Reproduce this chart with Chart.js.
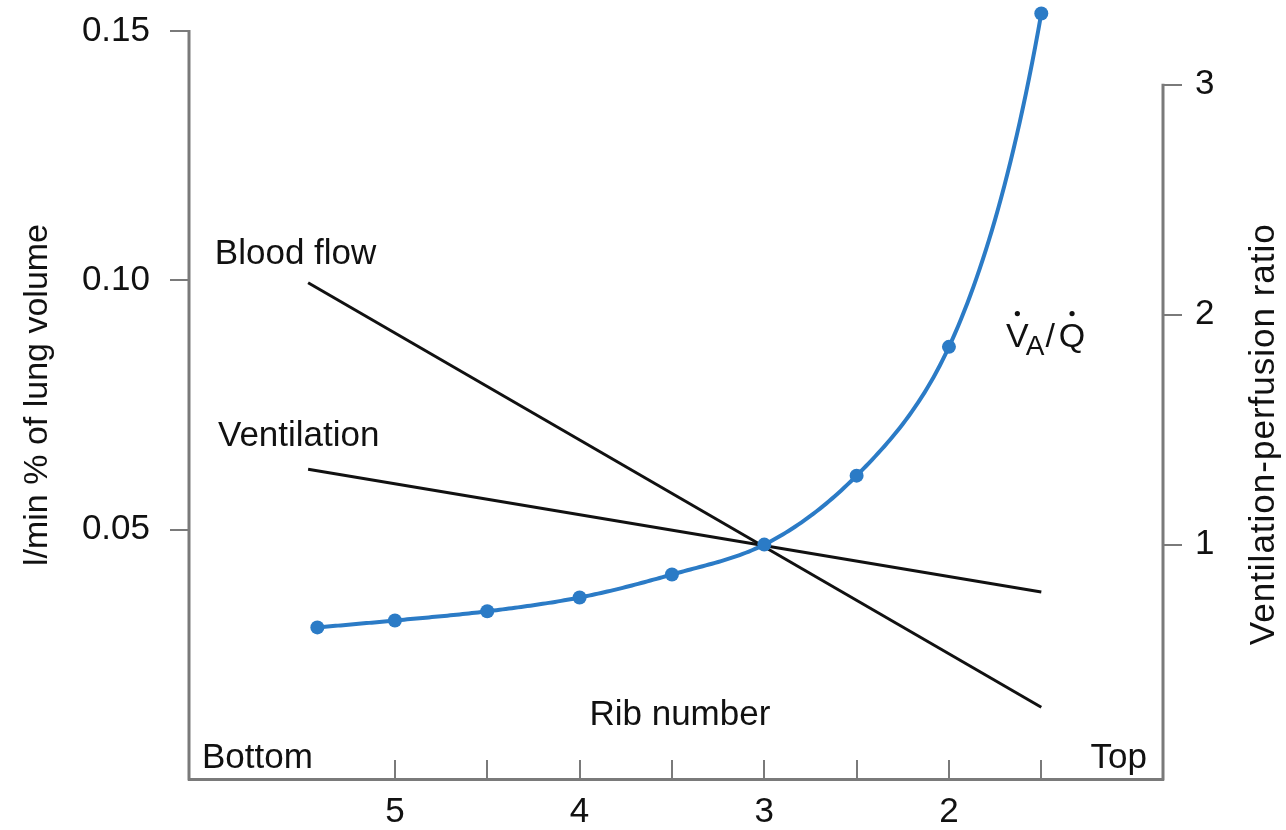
<!DOCTYPE html>
<html lang="en">
<head>
    <meta charset="UTF-8">
    <title>Ventilation and blood flow by rib number</title>
    <style>
        body { margin: 0; background: #fff; }
        #chart-container { width: 1286px; height: 830px; }
    </style>
    <script src="https://cdn.jsdelivr.net/npm/chart.js"></script>
</head>
<body>
    <div id="chart-container">
        <canvas id="lungChart" width="1286" height="830"></canvas>
    </div>

    <script>
        // rib number axis (bottom of the lung on the left, top on the right)
        const ribTicks = [5, 4.5, 4, 3.5, 3, 2.5, 2, 1.5];
        const ribLabels = ['5', '', '4', '', '3', '', '2', ''];
        const leftTicks = [0.05, 0.10, 0.15];
        const leftLabels = ['0.05', '0.10', '0.15'];
        const rightTicks = [1, 2, 3];

        // ventilation-perfusion ratio (right axis)
        const vqRibs = [5.42, 5, 4.5, 4, 3.5, 3, 2.5, 2, 1.5];
        const vqRatio = [0.64, 0.67, 0.71, 0.77, 0.87, 1.0, 1.30, 1.86, 3.31];

        // blood flow and ventilation, l/min % of lung volume (left axis)
        const lineRibs = [5.47, 1.5];
        const bloodFlow = [0.0995, 0.0144];
        const ventilation = [0.0621, 0.0375];

        const axisColor = '#7a7a7a';
        const textColor = '#111';
        const blue = '#2b7bc6';
        const fontFamily = '"Liberation Sans", Arial, sans-serif';

        // text written inside the plot, placed in data units
        const notes = [
            { text: 'Blood flow', rib: 5.975, value: 0.1033, align: 'left' },
            { text: 'Ventilation', rib: 5.958, value: 0.0667, align: 'left' },
            { text: 'Rib number', rib: 3.457, value: 0.0108, align: 'center' },
            { text: 'Bottom', rib: 6.045, value: 0.0022, align: 'left' },
            { text: 'Top', rib: 0.928, value: 0.0022, align: 'right' }
        ];

        // smooth V/Q curve: cubic Hermite through the points in log space,
        // so it bends like the exponential rise in the figure
        const vqCurve = {
            id: 'vqCurve',
            beforeDatasetsDraw(chart) {
                const { ctx } = chart;
                const { x, yR } = chart.scales;
                const u = vqRibs.map(r => -r);
                const L = vqRatio.map(Math.log);
                const n = u.length;
                const h = [], s = [], m = [];
                for (let i = 0; i < n - 1; i++) {
                    h[i] = u[i + 1] - u[i];
                    s[i] = (L[i + 1] - L[i]) / h[i];
                }
                for (let i = 1; i < n - 1; i++) {
                    m[i] = (h[i] * s[i - 1] + h[i - 1] * s[i]) / (h[i - 1] + h[i]);
                }
                m[0] = 2 * s[0] - m[1];
                m[n - 1] = 2 * s[n - 2] - m[n - 2];

                ctx.save();
                ctx.strokeStyle = blue;
                ctx.lineWidth = 4;
                ctx.lineJoin = 'round';
                ctx.lineCap = 'round';
                ctx.beginPath();
                ctx.moveTo(x.getPixelForValue(vqRibs[0]), yR.getPixelForValue(vqRatio[0]));
                for (let i = 0; i < n - 1; i++) {
                    for (let k = 1; k <= 30; k++) {
                        const t = k / 30, t2 = t * t, t3 = t2 * t;
                        const lv = (2 * t3 - 3 * t2 + 1) * L[i] + (t3 - 2 * t2 + t) * h[i] * m[i]
                            + (-2 * t3 + 3 * t2) * L[i + 1] + (t3 - t2) * h[i] * m[i + 1];
                        const rib = -(u[i] + t * h[i]);
                        ctx.lineTo(x.getPixelForValue(rib), yR.getPixelForValue(Math.exp(lv)));
                    }
                }
                ctx.stroke();
                ctx.restore();
            }
        };

        const textPlugin = {
            id: 'textPlugin',
            afterDraw(chart) {
                const { ctx, chartArea } = chart;
                const { x, yL, yR } = chart.scales;
                ctx.save();

                // both y axis lines stop at their top tick
                ctx.strokeStyle = axisColor;
                ctx.lineWidth = 3;
                ctx.beginPath();
                ctx.moveTo(chartArea.left, yL.getPixelForValue(0.15) - 1);
                ctx.lineTo(chartArea.left, chartArea.bottom + 1.5);
                ctx.moveTo(chartArea.right, yR.getPixelForValue(3) - 1);
                ctx.lineTo(chartArea.right, chartArea.bottom + 1.5);
                ctx.stroke();

                ctx.fillStyle = textColor;
                ctx.font = '35px ' + fontFamily;
                ctx.textBaseline = 'alphabetic';
                notes.forEach(n => {
                    ctx.textAlign = n.align;
                    ctx.fillText(n.text, x.getPixelForValue(n.rib), yL.getPixelForValue(n.value));
                });

                // V-dot A / Q-dot
                let px = x.getPixelForValue(1.691);
                const py = yL.getPixelForValue(0.0867);
                ctx.textAlign = 'left';
                ctx.font = '34px ' + fontFamily;
                ctx.fillText('V', px, py);
                const wV = ctx.measureText('V').width;
                const dotV = px + wV / 2;
                px += wV - 3;
                ctx.font = '28px ' + fontFamily;
                ctx.fillText('A', px, py + 8);
                px += ctx.measureText('A').width + 1;
                ctx.font = '34px ' + fontFamily;
                ctx.fillText('/', px, py);
                px += ctx.measureText('/').width + 4;
                ctx.fillText('Q', px, py);
                const dotQ = px + ctx.measureText('Q').width / 2;
                [dotV, dotQ].forEach(cx => {
                    ctx.beginPath();
                    ctx.arc(cx, py - 33, 2.6, 0, Math.PI * 2);
                    ctx.fill();
                });

                // axis titles
                ctx.textAlign = 'center';
                ctx.save();
                ctx.translate(47, yL.getPixelForValue(0.077));
                ctx.rotate(-Math.PI / 2);
                ctx.fillText('l/min % of lung volume', 0, 0);
                ctx.restore();

                ctx.font = '35px ' + fontFamily;
                ctx.save();
                ctx.letterSpacing = '1px';
                ctx.translate(chartArea.right + 111, yR.getPixelForValue(1.48));
                ctx.rotate(-Math.PI / 2);
                ctx.fillText('Ventilation-perfusion ratio', 0, 0);
                ctx.restore();

                ctx.restore();
            }
        };

        function createChart() {
            const ctx = document.getElementById('lungChart').getContext('2d');
            Chart.defaults.font.family = fontFamily;
            Chart.defaults.font.size = 35;
            Chart.defaults.color = textColor;

            new Chart(ctx, {
                type: 'line',
                data: {
                    datasets: [
                        {
                            label: 'VA/Q',
                            data: vqRibs.map((r, i) => ({ x: r, y: vqRatio[i] })),
                            yAxisID: 'yR',
                            showLine: false,
                            borderColor: blue,
                            backgroundColor: blue,
                            pointRadius: 7,
                            pointBorderWidth: 0,
                            clip: false
                        },
                        {
                            label: 'Blood flow',
                            data: lineRibs.map((r, i) => ({ x: r, y: bloodFlow[i] })),
                            yAxisID: 'yL',
                            borderColor: textColor,
                            borderWidth: 3,
                            pointRadius: 0
                        },
                        {
                            label: 'Ventilation',
                            data: lineRibs.map((r, i) => ({ x: r, y: ventilation[i] })),
                            yAxisID: 'yL',
                            borderColor: textColor,
                            borderWidth: 3,
                            pointRadius: 0
                        }
                    ]
                },
                options: {
                    responsive: false,
                    animation: false,
                    layout: { padding: { top: 4, left: 0, right: 0, bottom: 0 } },
                    plugins: {
                        legend: { display: false },
                        tooltip: { enabled: false }
                    },
                    scales: {
                        x: {
                            type: 'linear',
                            reverse: true,
                            min: 0.841,
                            max: 6.115,
                            afterBuildTicks: s => { s.ticks = ribTicks.map(v => ({ value: v })); },
                            afterFit: s => { s.height = 51; s.paddingLeft = 0; s.paddingRight = 0; },
                            border: { color: axisColor, width: 3 },
                            grid: { drawOnChartArea: false, tickLength: -19, color: axisColor, lineWidth: 2 },
                            ticks: {
                                padding: 31,
                                maxRotation: 0,
                                autoSkip: false,
                                callback: v => ribLabels[ribTicks.indexOf(v)]
                            }
                        },
                        yL: {
                            type: 'linear',
                            position: 'left',
                            min: 0,
                            max: 0.1548,
                            afterBuildTicks: s => { s.ticks = leftTicks.map(v => ({ value: v })); },
                            afterFit: s => { s.width = 189; s.paddingTop = 0; s.paddingBottom = 0; },
                            border: { display: false },
                            grid: { drawOnChartArea: false, tickLength: 19, color: axisColor, lineWidth: 2 },
                            ticks: {
                                padding: 20,
                                callback: v => leftLabels[leftTicks.indexOf(v)]
                            }
                        },
                        yR: {
                            type: 'linear',
                            position: 'right',
                            min: -0.0193,
                            max: 3.338,
                            afterBuildTicks: s => { s.ticks = rightTicks.map(v => ({ value: v })); },
                            afterFit: s => { s.width = 123; s.paddingTop = 0; s.paddingBottom = 0; },
                            border: { display: false },
                            grid: { drawOnChartArea: false, tickLength: 19, color: axisColor, lineWidth: 2 },
                            ticks: {
                                padding: 13,
                                callback: v => String(v)
                            }
                        }
                    }
                },
                plugins: [vqCurve, textPlugin]
            });
        }

        createChart();
    </script>
</body>
</html>
